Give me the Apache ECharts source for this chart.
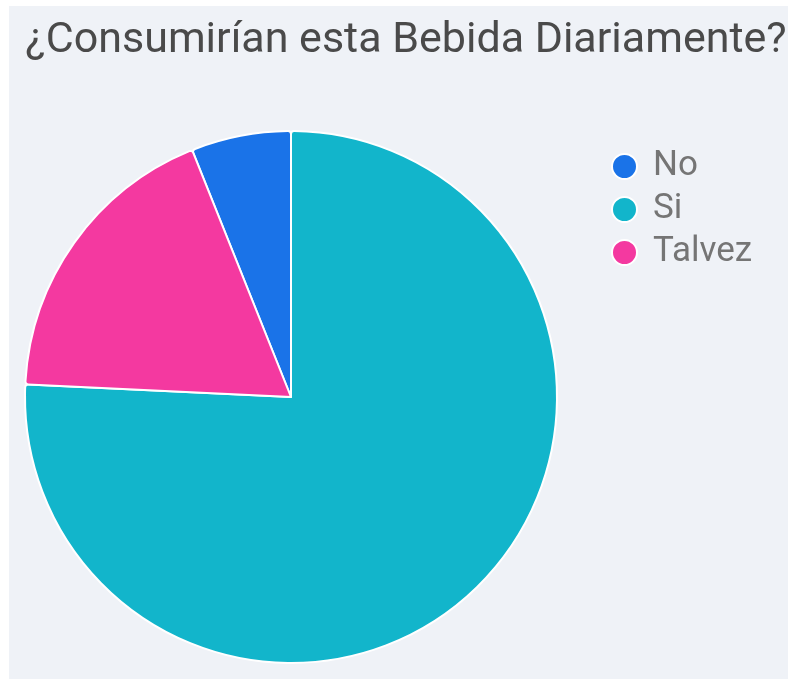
<!DOCTYPE html>
<html>
<head>
<meta charset="utf-8">
<script src="https://cdn.jsdelivr.net/npm/echarts@6/dist/echarts.min.js"></script>
<style>
  html, body { margin: 0; padding: 0; background: #ffffff; }
  #main { position: absolute; left: 9px; top: 6px; width: 779px; height: 673px; }
</style>
</head>
<body>
<div id="main"></div>
<script>
// respuestas de la encuesta
var categorias = ['No', 'Si', 'Talvez'];
var respuestas = [2, 25, 6];
var colores = ['#1a73e8', '#12b5cb', '#f439a0'];

var total = respuestas.reduce(function (a, b) { return a + b; }, 0);
// Google empieza "No" justo a la izquierda de las 12
var inicio = 90 + 360 * respuestas[0] / total;

var datos = categorias.map(function (c, i) {
    return { name: c, value: respuestas[i], itemStyle: { color: colores[i] } };
});

var myChart = echarts.init(document.getElementById('main'), null, { renderer: 'canvas' });

var option = {
    backgroundColor: '#eff2f7',
    animation: false,
    title: {
        text: '¿Consumirían esta Bebida Diariamente?',
        left: 392,
        textAlign: 'center',
        top: 9,
        textStyle: {
            fontFamily: 'Roboto',
            fontWeight: 'normal',
            fontSize: 43,
            color: '#4a4a4a'
        }
    },
    legend: {
        orient: 'vertical',
        left: 597,
        top: 138,
        icon: 'circle',
        itemWidth: 25,
        itemHeight: 25,
        itemGap: 8,
        data: categorias,
        textStyle: {
            fontFamily: 'Roboto',
            fontSize: 35,
            lineHeight: 34,
            color: '#757575',
            padding: [0, 0, 0, 11]
        }
    },
    series: [
        {
            type: 'pie',
            center: [282, 391],
            radius: [0, 266],
            startAngle: inicio,
            clockwise: true,
            label: { show: false },
            labelLine: { show: false },
            itemStyle: {
                borderColor: '#ffffff',
                borderWidth: 2,
                borderRadius: 3
            },
            data: datos
        }
    ]
};

myChart.setOption(option);
window.addEventListener('resize', myChart.resize);
</script>
</body>
</html>
